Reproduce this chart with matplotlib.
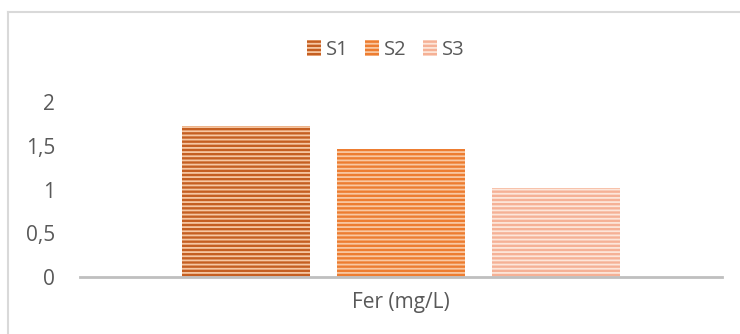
import matplotlib.pyplot as plt
from matplotlib.lines import Line2D

plt.rcParams['font.family'] = ['Open Sans', 'DejaVu Sans']
plt.rcParams['hatch.linewidth'] = 1.3

category = 'Fer (mg/L)'
series = ['S1', 'S2', 'S3']
values = [1.73, 1.46, 1.02]
yticks = [0, 0.5, 1, 1.5, 2]
ytick_labels = ['0', '0,5', '1', '1,5', '2']

fill_colors = ['#c55f22', '#ed7d31', '#f5b196']
stripe_colors = ['#f6c7a3', '#f9c8a2', '#fde6da']

fig = plt.figure(figsize=(7.4, 3.34), dpi=100)
ax = fig.add_axes([80 / 740, 1 - 277 / 334, 642 / 740, 175 / 334])

bar_w = 0.2
step = 0.2414
for i, (name, val) in enumerate(zip(series, values)):
    ax.bar((i - 1) * step, val, width=bar_w, color=fill_colors[i],
           edgecolor=stripe_colors[i], linewidth=0, hatch='----', label=name)

ax.set_xlim(-0.5, 0.5)
ax.set_ylim(0, 2)
ax.set_yticks(yticks)
ax.set_yticklabels(ytick_labels)
ax.set_xticks([0])
ax.set_xticklabels([category])
ax.tick_params(axis='both', length=0, labelsize=15, labelcolor='#595959')
ax.tick_params(axis='y', pad=18)
ax.tick_params(axis='x', pad=11)
for side in ['left', 'right', 'top']:
    ax.spines[side].set_visible(False)
ax.spines['bottom'].set_color('#bfbfbf')
ax.spines['bottom'].set_linewidth(2)

ax.legend(loc='center', bbox_to_anchor=(386 / 740, 1 - 50 / 334),
          bbox_transform=fig.transFigure, ncol=3, frameon=False,
          handlelength=0.7, handleheight=0.8, handletextpad=0.25,
          columnspacing=0.8, fontsize=14.5, labelcolor='#595959')

# chart area border (left and top edges)
fx, fy = 8 / 740, 1 - 12 / 334
fig.add_artist(Line2D([fx, fx], [0, fy], transform=fig.transFigure,
                      color='#d9d9d9', lw=1.5))
fig.add_artist(Line2D([fx, 1], [fy, fy], transform=fig.transFigure,
                      color='#d9d9d9', lw=1.5))

fig.savefig('out.png', dpi=100)
